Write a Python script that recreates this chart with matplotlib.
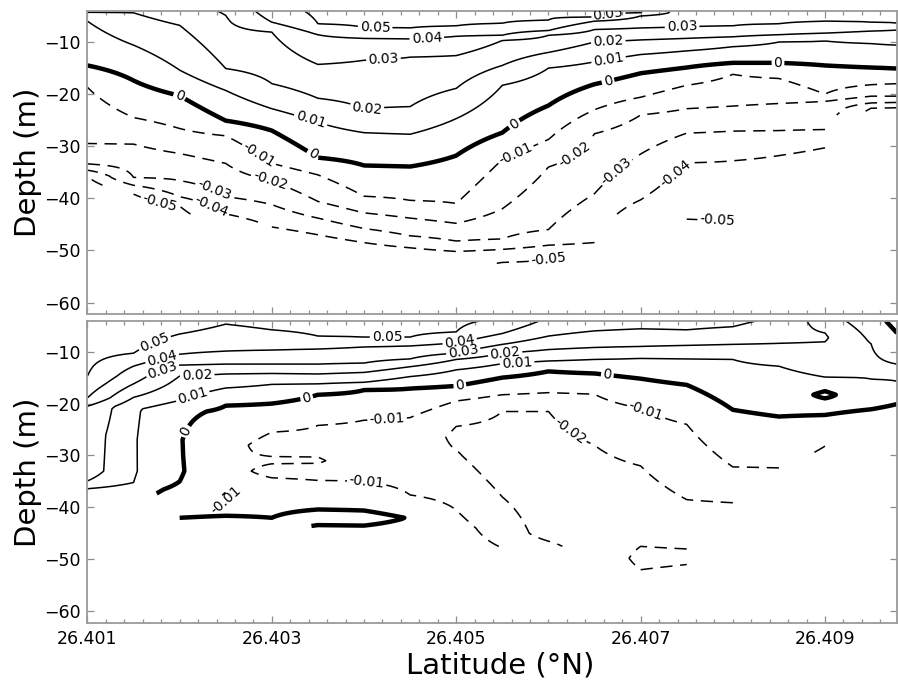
import numpy as np
import matplotlib
matplotlib.use('Agg')
import matplotlib.pyplot as plt
from matplotlib.ticker import FixedLocator, MultipleLocator, FormatStrFormatter

nan = np.nan

# latitude of each profile column
lat = [26.4010, 26.4015, 26.4020, 26.4025, 26.4030, 26.4035, 26.4040, 26.4045,
       26.4050, 26.4055, 26.4060, 26.4065, 26.4070, 26.4075, 26.4080, 26.4085,
       26.4090, 26.4095, 26.40978]

pos_levels = [0.01, 0.02, 0.03, 0.04, 0.05]
neg_levels = [-0.05, -0.04, -0.03, -0.02, -0.01]

# upper panel: (depth, value) read along each column, shallow -> deep
top_cols = [
    [(-4.1, 0.021), (-4.3, 0.02), (-6.0, 0.01), (-14.5, 0.0), (-18.7, -0.01), (-29.5, -0.02), (-33.4, -0.03), (-34.6, -0.04), (-35.8, -0.05), (-37.5, -0.055)],
    [(-4.1, 0.0205), (-4.4, 0.02), (-10.6, 0.01), (-17.4, 0.0), (-24.5, -0.01), (-29.6, -0.02), (-36.0, -0.03), (-37.5, -0.04), (-39.2, -0.05), (-40.8, -0.055)],
    [(-4.1, 0.025), (-6.8, 0.02), (-15.4, 0.01), (-20.3, 0.0), (-26.6, -0.01), (-31.4, -0.02), (-36.6, -0.03), (-39.7, -0.04), (-41.5, -0.05), (-43.0, -0.053)],
    [(-4.1, 0.031), (-4.9, 0.03), (-15.1, 0.02), (-19.3, 0.01), (-25.1, 0.0), (-28.0, -0.01), (-33.3, -0.02), (-39.7, -0.03), (-43.0, -0.04), (-44.5, -0.045)],
    [(-4.1, 0.045), (-6.2, 0.04), (-8.1, 0.03), (-18.0, 0.02), (-22.8, 0.01), (-27.0, 0.0), (-33.3, -0.01), (-36.6, -0.02), (-41.2, -0.03), (-45.5, -0.04), (-47.0, -0.045)],
    [(-4.1, 0.052), (-6.5, 0.05), (-8.6, 0.04), (-14.3, 0.03), (-20.8, 0.02), (-25.4, 0.01), (-32.2, 0.0), (-35.5, -0.01), (-40.6, -0.02), (-43.8, -0.03), (-47.0, -0.04), (-48.5, -0.045)],
    [(-4.1, 0.055), (-7.2, 0.05), (-9.3, 0.04), (-13.5, 0.03), (-22.8, 0.02), (-27.4, 0.01), (-33.7, 0.0), (-39.6, -0.01), (-42.8, -0.02), (-45.8, -0.03), (-48.5, -0.04), (-50.0, -0.045)],
    [(-4.1, 0.055), (-7.3, 0.05), (-9.4, 0.04), (-12.9, 0.03), (-22.4, 0.02), (-27.7, 0.01), (-33.9, 0.0), (-40.4, -0.01), (-43.8, -0.02), (-47.2, -0.03), (-49.5, -0.04), (-51.0, -0.046)],
    [(-4.1, 0.054), (-6.9, 0.05), (-8.9, 0.04), (-12.6, 0.03), (-18.9, 0.02), (-24.7, 0.01), (-31.8, 0.0), (-41.0, -0.01), (-44.8, -0.02), (-48.2, -0.03), (-50.2, -0.04), (-52.5, -0.048)],
    [(-4.1, 0.053), (-6.4, 0.05), (-8.7, 0.04), (-9.7, 0.03), (-14.5, 0.02), (-18.3, 0.01), (-27.4, 0.0), (-32.5, -0.01), (-42.0, -0.02), (-47.8, -0.03), (-49.8, -0.04), (-52.3, -0.05), (-53.5, -0.052)],
    [(-4.1, 0.052), (-5.8, 0.05), (-7.8, 0.04), (-8.7, 0.03), (-12.0, 0.02), (-15.0, 0.01), (-22.2, 0.0), (-28.7, -0.01), (-34.0, -0.02), (-46.0, -0.03), (-49.0, -0.04), (-51.7, -0.05), (-53.0, -0.052)],
    [(-4.1, 0.052), (-5.2, 0.05), (-6.0, 0.04), (-7.6, 0.03), (-10.0, 0.02), (-13.8, 0.01), (-18.1, 0.0), (-23.0, -0.01), (-27.6, -0.02), (-39.1, -0.03), (-48.5, -0.04), (-50.5, -0.045)],
    [(-4.1, 0.0505), (-4.4, 0.05), (-5.0, 0.04), (-7.3, 0.03), (-9.6, 0.02), (-12.4, 0.01), (-16.0, 0.0), (-20.6, -0.01), (-24.0, -0.02), (-31.5, -0.03), (-40.3, -0.04), (-43.0, -0.046)],
    [(-4.1, 0.034), (-7.1, 0.03), (-9.3, 0.02), (-11.7, 0.01), (-14.9, 0.0), (-18.3, -0.01), (-22.8, -0.02), (-27.5, -0.03), (-33.2, -0.04), (-44.0, -0.05), (-45.5, -0.052)],
    [(-4.1, 0.0335), (-6.9, 0.03), (-9.0, 0.02), (-10.9, 0.01), (-14.0, 0.0), (-16.2, -0.01), (-22.3, -0.02), (-27.1, -0.03), (-32.8, -0.04), (-44.5, -0.05), (-46.0, -0.052)],
    [(-4.1, 0.034), (-6.5, 0.03), (-8.6, 0.02), (-10.0, 0.01), (-14.0, 0.0), (-17.0, -0.01), (-21.8, -0.02), (-27.0, -0.03), (-31.8, -0.04), (-35.0, -0.044)],
    [(-4.1, 0.033), (-6.0, 0.03), (-8.3, 0.02), (-9.8, 0.01), (-14.5, 0.0), (-20.0, -0.01), (-21.4, -0.02), (-26.8, -0.03), (-30.3, -0.04), (-32.0, -0.043)],
    [(-4.1, 0.032), (-6.2, 0.03), (-7.9, 0.02), (-10.3, 0.01), (-14.9, 0.0), (-18.2, -0.01), (-20.4, -0.02), (-21.7, -0.03), (-22.7, -0.04), (-24.0, -0.045)],
    [(-4.1, 0.032), (-6.4, 0.03), (-7.7, 0.02), (-10.6, 0.01), (-15.1, 0.0), (-18.0, -0.01), (-20.4, -0.02), (-21.6, -0.03), (-22.6, -0.04), (-24.0, -0.045)],
]

# lower panel
bot_cols = [
    [(-4.1, 0.058), (-14.7, 0.05), (-18.9, 0.04), (-20.5, 0.03), (-26.0, 0.026), (-33.0, 0.025), (-34.9, 0.02), (-36.4, 0.01), (-37.5, 0.004)],
    [(-4.1, 0.06), (-10.3, 0.05), (-12.8, 0.04), (-16.2, 0.03), (-18.8, 0.02), (-21.0, 0.0115), (-27.0, 0.0108), (-33.0, 0.0108), (-35.2, 0.01), (-36.5, 0.005), (-37.3, 0.004)],
    [(-4.1, 0.056), (-6.6, 0.05), (-10.5, 0.04), (-12.6, 0.03), (-14.7, 0.02), (-19.4, 0.01), (-21.5, 0.002), (-27.0, 0.0005), (-33.0, 0.001), (-35.0, 0.0), (-38.5, -0.006), (-42.0, 0.0), (-42.8, 0.002), (-43.5, 0.002)],
    [(-4.1, 0.0505), (-4.7, 0.05), (-9.9, 0.04), (-12.4, 0.03), (-14.3, 0.02), (-17.0, 0.01), (-20.4, 0.0), (-26.0, -0.007), (-30.0, -0.0092), (-35.0, -0.0085), (-38.4, -0.011), (-41.6, 0.0), (-42.6, 0.002), (-43.4, 0.002)],
    [(-4.1, 0.053), (-5.8, 0.05), (-9.7, 0.04), (-12.4, 0.03), (-14.2, 0.02), (-16.3, 0.01), (-20.0, 0.0), (-25.5, -0.01), (-28.0, -0.012), (-30.2, -0.01), (-31.0, -0.0093), (-31.6, -0.01), (-33.0, -0.011), (-34.3, -0.01), (-38.0, -0.004), (-42.0, 0.0), (-42.8, 0.002), (-43.5, 0.002)],
    [(-4.1, 0.054), (-7.0, 0.05), (-9.5, 0.04), (-12.4, 0.03), (-14.3, 0.02), (-16.2, 0.01), (-18.3, 0.0), (-24.2, -0.01), (-27.5, -0.012), (-30.3, -0.01), (-31.0, -0.0093), (-31.5, -0.01), (-33.0, -0.012), (-34.8, -0.01), (-38.0, -0.004), (-40.4, 0.0), (-42.0, 0.004), (-43.4, 0.0), (-44.5, -0.002)],
    [(-4.1, 0.055), (-7.2, 0.05), (-9.1, 0.04), (-12.2, 0.03), (-14.0, 0.02), (-15.9, 0.01), (-17.4, 0.0), (-23.2, -0.01), (-29.0, -0.015), (-35.0, -0.01), (-38.0, -0.004), (-40.6, 0.0), (-42.2, 0.004), (-43.5, 0.0), (-44.5, -0.002)],
    [(-4.1, 0.055), (-7.2, 0.05), (-8.9, 0.04), (-11.4, 0.03), (-12.9, 0.02), (-14.8, 0.01), (-17.1, 0.0), (-22.7, -0.01), (-30.0, -0.016), (-37.6, -0.01), (-42.0, -0.0005), (-43.5, -0.003), (-44.5, -0.004)],
    [(-4.1, 0.052), (-6.2, 0.05), (-8.3, 0.04), (-10.3, 0.03), (-11.5, 0.02), (-13.5, 0.01), (-16.6, 0.0), (-19.5, -0.01), (-24.4, -0.02), (-26.5, -0.022), (-29.0, -0.02), (-35.0, -0.015), (-40.5, -0.01), (-44.0, -0.007), (-48.5, -0.006)],
    [(-4.1, 0.048), (-6.5, 0.04), (-8.6, 0.03), (-10.3, 0.02), (-12.3, 0.01), (-15.0, 0.0), (-18.3, -0.01), (-21.5, -0.02), (-30.0, -0.026), (-38.0, -0.02), (-44.0, -0.014), (-47.8, -0.01), (-49.0, -0.008)],
    [(-4.1, 0.038), (-7.0, 0.03), (-9.6, 0.02), (-11.8, 0.01), (-13.8, 0.0), (-17.9, -0.01), (-21.5, -0.02), (-35.0, -0.028), (-45.0, -0.025), (-46.5, -0.02), (-47.5, -0.018)],
    [(-4.1, 0.035), (-6.0, 0.03), (-9.2, 0.02), (-11.5, 0.01), (-14.2, 0.0), (-18.2, -0.01), (-28.0, -0.02), (-40.0, -0.026), (-46.0, -0.025), (-50.0, -0.024), (-51.5, -0.024)],
    [(-4.1, 0.034), (-5.6, 0.03), (-9.0, 0.02), (-11.3, 0.01), (-15.2, 0.0), (-20.9, -0.01), (-32.0, -0.02), (-42.0, -0.025), (-47.5, -0.03), (-49.8, -0.032), (-52.0, -0.03), (-53.0, -0.029)],
    [(-4.1, 0.034), (-5.8, 0.03), (-8.8, 0.02), (-11.4, 0.01), (-16.4, 0.0), (-24.0, -0.01), (-38.5, -0.02), (-44.0, -0.026), (-48.0, -0.03), (-49.5, -0.031), (-51.0, -0.03), (-52.0, -0.029)],
    [(-4.1, 0.032), (-5.2, 0.03), (-8.6, 0.02), (-11.5, 0.01), (-21.2, 0.0), (-32.2, -0.01), (-39.1, -0.02), (-40.5, -0.021)],
    [(-4.1, 0.028), (-8.4, 0.02), (-12.8, 0.01), (-22.5, 0.0), (-32.4, -0.01), (-34.0, -0.012)],
    [(-4.1, 0.015), (-6.4, 0.02), (-7.3, 0.021), (-8.1, 0.02), (-14.9, 0.01), (-17.6, 0.0), (-18.3, -0.0015), (-19.0, 0.0), (-20.5, 0.002), (-22.2, 0.0), (-28.2, -0.01), (-29.5, -0.011)],
    [(-4.1, 0.004), (-8.5, 0.01), (-12.5, 0.0115), (-15.3, 0.01), (-21.1, 0.0), (-22.5, -0.002)],
    [(-4.1, -0.003), (-6.4, 0.0), (-12.4, 0.01), (-14.0, 0.011), (-15.7, 0.01), (-20.1, 0.0), (-21.5, -0.002)],
]

# where the contour labels sit (lat, depth)
top_lab_pos = [(26.40412, -7.4), (26.40468, -9.0), (26.40421, -13.1), (26.40403, -22.6), (26.40341, -25.6),
               (26.40665, -5.1), (26.40745, -7.2), (26.40665, -10.2), (26.40665, -13.1)]
top_lab_zero = [(26.40200, -20.3), (26.40345, -31.4), (26.40564, -26.0), (26.40665, -17.8), (26.40849, -14.1)]
top_lab_neg = [(26.40284, -32.2), (26.40298, -36.6), (26.40236, -38.9), (26.40236, -41.0), (26.40186, -40.8),
               (26.40564, -31.4), (26.40627, -31.4), (26.40670, -34.1), (26.40741, -36.0), (26.40783, -44.3),
               (26.40605, -51.7)]
bot_lab_pos = [(26.40173, -8.3), (26.40181, -11.3), (26.40181, -13.4), (26.40219, -14.3), (26.40215, -19.1),
               (26.40425, -7.4), (26.40504, -8.3), (26.40508, -10.3), (26.40553, -10.3), (26.40566, -12.2)]
bot_lab_zero = [(26.40213, -25.9), (26.40338, -19.1), (26.40504, -16.6), (26.40664, -14.3)]
bot_lab_neg = [(26.40425, -22.9), (26.40403, -35.0), (26.40707, -20.9), (26.40621, -25.9), (26.40250, -38.2)]

z = np.linspace(-4.1, -62.2, 700)


def build(cols):
    Z = np.full((len(z), len(cols)), nan)
    for j, prof in enumerate(cols):
        d = np.array([p[0] for p in prof])
        v = np.array([p[1] for p in prof])
        Z[:, j] = np.interp(-z, -d, v, left=v[0], right=nan)
    return Z


def fmt(v):
    return '%g' % v


def draw(ax, Z, lp, lz, ln):
    ax.set_xlim(26.401, 26.40978)
    ax.set_ylim(-62.2, -4.1)
    cp = ax.contour(lat, z, Z, levels=pos_levels, colors='k', linewidths=1.1, linestyles='solid')
    c0 = ax.contour(lat, z, Z, levels=[0.0], colors='k', linewidths=3.2, linestyles='solid')
    cn = ax.contour(lat, z, Z, levels=neg_levels, colors='k', linewidths=1.1,
                    linestyles=[(0, (8, 5))] * len(neg_levels))
    for cs, where in ((cp, lp), (c0, lz), (cn, ln)):
        ax.clabel(cs, manual=where, inline=True, inline_spacing=2, fmt=fmt, fontsize=10)

    ax.xaxis.set_major_locator(FixedLocator([26.401, 26.403, 26.405, 26.407, 26.409]))
    ax.xaxis.set_minor_locator(MultipleLocator(0.0002))
    ax.xaxis.set_major_formatter(FormatStrFormatter('%.3f'))
    ax.yaxis.set_major_locator(FixedLocator([-60, -50, -40, -30, -20, -10]))
    ax.tick_params(which='both', direction='in', top=True, right=True, color='#8c8c8c',
                   labelsize=12.5, pad=5)
    ax.tick_params(which='major', length=5, width=0.9)
    ax.tick_params(which='minor', length=3, width=0.9)
    ax.tick_params(axis='x', pad=5)
    for s in ax.spines.values():
        s.set_color('#9a9a9a')
        s.set_linewidth(1.3)
    ax.set_ylabel('Depth (m)', fontsize=21)
    ax.yaxis.set_label_coords(-0.056, 0.5)


fig = plt.figure(figsize=(8.98, 6.83), dpi=100)
ax1 = fig.add_axes([0.0974, 0.5403, 0.9014, 0.4432])
ax2 = fig.add_axes([0.0974, 0.0883, 0.9014, 0.4417])

draw(ax1, build(top_cols), top_lab_pos, top_lab_zero, top_lab_neg)
draw(ax2, build(bot_cols), bot_lab_pos, bot_lab_zero, bot_lab_neg)
ax1.tick_params(labelbottom=False)
ax2.set_xlabel('Latitude (°N)', fontsize=21)
ax2.xaxis.set_label_coords(0.5096, -0.097)

fig.savefig('out.png', dpi=100)
